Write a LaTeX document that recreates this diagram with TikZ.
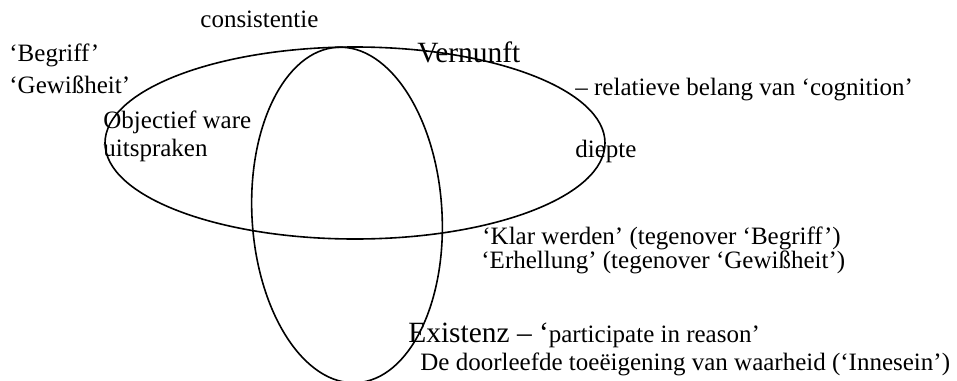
\documentclass[tikz,border=0pt]{standalone}
\usepackage{fontspec}
\setmainfont{Liberation Serif}
\begin{document}
\begin{tikzpicture}[x=0.5pt,y=-0.5pt,
  txt/.style={anchor=base west,inner sep=0pt,font=\fontsize{12.5}{15}\selectfont},
  big/.style={anchor=base west,inner sep=0pt,font=\fontsize{14.7}{17}\selectfont},
  ring/.style={line width=0.8pt}]
\useasboundingbox (0,0) rectangle (957,380);
\clip (0,0) rectangle (957,380);
% ellipses
\draw[ring] (355,143) ellipse [x radius=250, y radius=96];
\draw[ring, rotate around={3.4:(347,215)}] (347,215) ellipse [x radius=95, y radius=168];
% texts
\node[txt] (cons) at (200,27) {consistentie};
\node[txt] (begr) at (9,61) {‘Begriff’};
\node[txt] (gew) at (9,93) {‘Gewißheit’};
\node[txt] (obj) at (103,128) {Objectief ware};
\node[txt] (uit) at (103,156) {uitspraken};
\node[big] (vern) at (417,62) {Vernunft};
\node[txt] (rel) at (575,95) {– relatieve belang van ‘cognition’};
\node[txt] (diep) at (575,157) {diepte};
\node[txt] (klar) at (482,244) {‘Klar werden’ (tegenover ‘Begriff’)};
\node[txt] (erh) at (481,268) {‘Erhellung’ (tegenover ‘Gewißheit’)};
\node[big] (ex) at (408,342) {Existenz – ‘{\fontsize{12.5}{15}\selectfont participate in reason’}};
\node[txt] (doorl) at (420,370) {De doorleefde toeëigening van waarheid (‘Innesein’)};
\end{tikzpicture}
\end{document}
